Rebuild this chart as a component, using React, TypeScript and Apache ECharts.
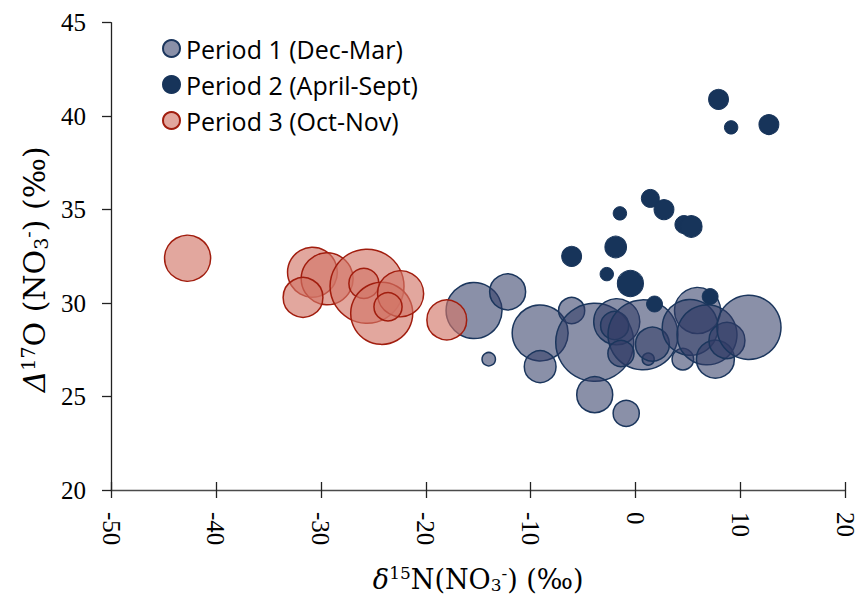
import React, { useEffect, useRef } from 'react';
import * as echarts from 'echarts';

// Period 1 (Dec-Mar)
const p1X = [-15.4, -12.2, -9.1, -14.0, -9.1, -6.1, -3.9, -3.9, -0.9, -1.8, -2.0, 0.7, -1.4, 1.2, 1.6, 4.5, 5.9, 5.2, 6.8, 7.6, 8.7, 10.8];
const p1Y = [29.6, 30.6, 28.4, 27.0, 26.6, 29.6, 27.9, 25.1, 24.1, 29.0, 28.8, 28.3, 27.3, 27.0, 27.8, 27.0, 29.6, 28.7, 28.3, 27.0, 28.0, 28.7];
const p1W = [87, 36, 87, 5, 28, 19, 169, 36, 19, 59, 22, 136, 19, 4, 32, 13, 59, 87, 100, 40, 36, 114];

// Period 2 (April-Sept)
const p2X = [7.9, 9.1, 12.7, 1.4, 2.7, -1.5, 4.6, 5.3, -1.9, -6.1, -2.75, -0.5, 1.8, 7.1];
const p2Y = [40.9, 39.4, 39.55, 35.6, 35.0, 34.8, 34.2, 34.1, 33.0, 32.5, 31.55, 31.05, 29.95, 30.35];
const p2W = [11, 5, 11, 9, 11, 5, 9, 13, 13, 11, 5, 19, 7, 7];

// Period 3 (Oct-Nov)
const p3X = [-42.7, -30.8, -29.4, -31.7, -25.6, -25.9, -24.2, -22.4, -23.6, -18.0];
const p3Y = [32.4, 31.65, 31.3, 30.3, 30.9, 31.05, 29.45, 30.5, 29.8, 29.1];
const p3W = [59, 69, 75, 44, 152, 25, 107, 59, 22, 44];

const seriesNames = ['Period 1 (Dec-Mar)', 'Period 2 (April-Sept)', 'Period 3 (Oct-Nov)'];

const xMin = -50, xMax = 20, xStep = 10;
const yMin = 20, yMax = 45, yStep = 5;

const serif = '"Liberation Serif", "DejaVu Serif", serif';
const titleFont = '"DejaVu Serif", "Liberation Serif", serif';

const zip = (xs: number[], ys: number[], ws: number[]) => xs.map((x, i) => [x, ys[i], ws[i]]);

const makeRich = (fs: number, ss: number) => ({
  g: { fontFamily: titleFont, fontSize: fs, fontStyle: 'italic', color: '#000' },
  n: { fontFamily: titleFont, fontSize: fs, color: '#000' },
  sup: { fontFamily: titleFont, fontSize: ss, color: '#000', padding: [0, 0, 13, 0] },
  sub: { fontFamily: titleFont, fontSize: ss, color: '#000', padding: [12, 0, 0, 0] },
});

export default function App() {
  const ref = useRef<HTMLDivElement>(null);
  useEffect(() => {
    if (!ref.current) return;
    const chart = echarts.init(ref.current, undefined, { renderer: 'svg' });
    const sizeFn = (v: number[]) => Math.sqrt(v[2]) * 6;
    chart.setOption({
      animation: false,
      backgroundColor: '#fff',
      grid: { left: 111, right: 9.6, top: 22.7, bottom: 113 },
      legend: {
        orient: 'vertical',
        left: 157,
        top: 31,
        itemWidth: 17,
        itemHeight: 17,
        itemGap: 11,
        icon: 'circle',
        data: seriesNames,
        textStyle: { fontFamily: '"Open Sans", sans-serif', fontSize: 25, color: '#000', padding: [0, 0, 0, 1] },
      },
      xAxis: [
        {
          type: 'value',
          min: xMin,
          max: xMax,
          interval: xStep,
          position: 'bottom',
          splitLine: { show: false },
          axisLine: { onZero: false, lineStyle: { color: '#4a4a4a', width: 1.3 } },
          axisTick: { length: 8, lineStyle: { color: '#222', width: 1.3 } },
          axisLabel: { rotate: -90, margin: 22, fontFamily: serif, fontSize: 25, color: '#000' },
          name: '{g|δ}{sup|15}{n|N(NO}{sub|3}{sup|-}{n|) (‰)}',
          nameLocation: 'middle',
          nameGap: 74,
          nameTextStyle: { rich: makeRich(27, 17) },
        },
        {
          type: 'value',
          min: xMin,
          max: xMax,
          interval: xStep,
          position: 'bottom',
          offset: 0,
          splitLine: { show: false },
          axisLine: { show: false, onZero: false },
          axisTick: { inside: true, length: 8, lineStyle: { color: '#222', width: 1.3 } },
          axisLabel: { show: false },
        },
      ],
      yAxis: {
        type: 'value',
        min: yMin,
        max: yMax,
        interval: yStep,
        splitLine: { show: false },
        axisLine: { show: true, onZero: false, lineStyle: { color: '#222', width: 1.3 } },
        axisTick: { show: true, length: 9, lineStyle: { color: '#222', width: 1.3 } },
        axisLabel: { margin: 25, fontFamily: serif, fontSize: 25, color: '#000' },
        name: '{g|Δ}{sup|17}{n|O (NO}{sub|3}{sup|-}{n|) (‰)}',
        nameLocation: 'middle',
        nameGap: 36,
        nameTextStyle: { rich: makeRich(30, 19), padding: [0, 26, 0, 0] },
      },
      series: [
        {
          name: seriesNames[0],
          type: 'scatter',
          data: zip(p1X, p1Y, p1W),
          symbolSize: sizeFn,
          itemStyle: { color: 'rgba(50,60,102,0.57)', borderColor: '#1b365d', borderWidth: 1.5, opacity: 1 },
        },
        {
          name: seriesNames[1],
          type: 'scatter',
          data: zip(p2X, p2Y, p2W),
          symbolSize: sizeFn,
          itemStyle: { color: '#17345a', borderColor: '#17345a', borderWidth: 1, opacity: 1 },
        },
        {
          name: seriesNames[2],
          type: 'scatter',
          data: zip(p3X, p3Y, p3W),
          symbolSize: sizeFn,
          itemStyle: { color: 'rgba(209,117,104,0.64)', borderColor: '#a11d0e', borderWidth: 1.5, opacity: 1 },
        },
      ],
    });
    return () => chart.dispose();
  }, []);
  return <div ref={ref} style={{ position: 'fixed', left: 0, top: 0, width: 858, height: 603 }} />;
}
